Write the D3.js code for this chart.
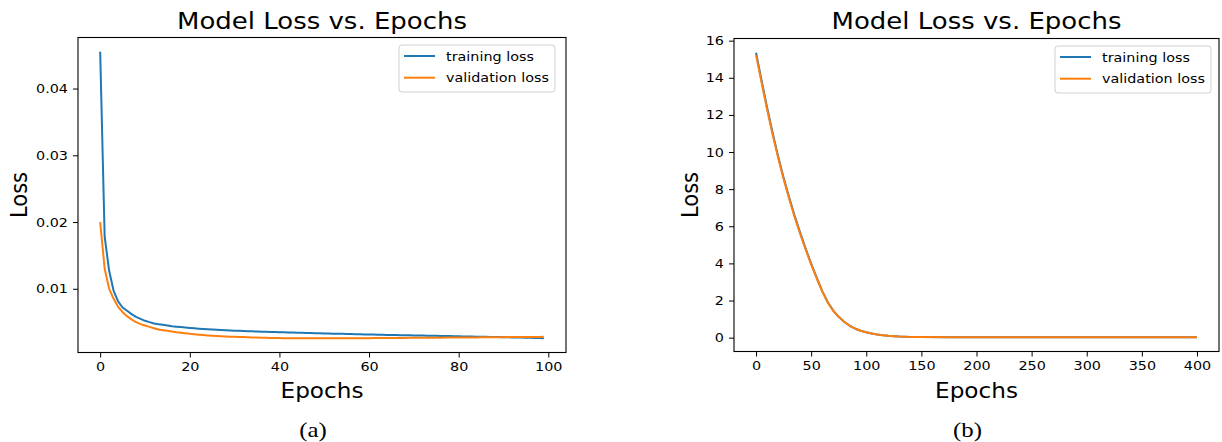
<!DOCTYPE html>
<html><head><meta charset="utf-8">
<script src="https://cdn.jsdelivr.net/npm/d3@7"></script>
<style>body{margin:0;background:#fff}svg{display:block}</style>
</head><body>
<script>
// ---------- data ----------
const titleText = "Model Loss vs. Epochs";
const xLabel = "Epochs";
const yLabel = "Loss";
const seriesNames = ["training loss", "validation loss"];
const seriesColors = ["#1f77b4", "#ff7f0e"];

// panel (a): 100 epochs
const epochsA = d3.range(0, 100);
const trainA = [
0.0455,0.0178,0.0127,0.0097,0.0081,0.0072,0.0067,0.0062,0.0058,0.0055,
0.0052,0.0050,0.0048,0.0047,0.0046,0.0045,0.0044,0.00433,0.00426,0.0042,
0.00414,0.00408,0.00403,0.00398,0.00394,0.0039,0.00386,0.00382,0.00379,0.00376,
0.00373,0.0037,0.00367,0.00365,0.00362,0.0036,0.00358,0.00356,0.00354,0.00352,
0.0035,0.00348,0.00346,0.00344,0.00342,0.0034,0.00338,0.00336,0.00335,0.00333,
0.00331,0.0033,0.00328,0.00326,0.00325,0.00323,0.00321,0.0032,0.00318,0.00317,
0.00315,0.00314,0.00312,0.00311,0.00309,0.00308,0.00307,0.00305,0.00304,0.00303,
0.00301,0.003,0.00299,0.00297,0.00296,0.00295,0.00294,0.00292,0.00291,0.0029,
0.00289,0.00287,0.00286,0.00285,0.00283,0.00282,0.0028,0.00279,0.00278,0.00276,
0.00275,0.00273,0.00272,0.0027,0.00269,0.00267,0.00266,0.00264,0.00262,0.0026];
const valA = [
0.0200,0.0130,0.0100,0.0085,0.0073,0.0065,0.0059,0.0054,0.0050,0.0047,
0.0045,0.0043,0.0041,0.0039,0.0038,0.0037,0.0036,0.0035,0.00342,0.00334,
0.00325,0.00318,0.00312,0.00306,0.00301,0.00296,0.00292,0.00288,0.00285,0.00282,
0.0028,0.00278,0.00276,0.00274,0.00272,0.0027,0.00268,0.00266,0.00264,0.00262,
0.00261,0.0026,0.0026,0.0026,0.0026,0.0026,0.0026,0.0026,0.0026,0.0026,
0.0026,0.0026,0.0026,0.0026,0.0026,0.0026,0.0026,0.0026,0.0026,0.0026,
0.0026,0.00261,0.00261,0.00262,0.00262,0.00263,0.00263,0.00264,0.00264,0.00265,
0.00265,0.00266,0.00266,0.00267,0.00267,0.00268,0.00268,0.00269,0.00269,0.0027,
0.0027,0.00271,0.00271,0.00272,0.00272,0.00273,0.00273,0.00274,0.00274,0.00275,
0.00275,0.00276,0.00276,0.00277,0.00277,0.00278,0.00278,0.00279,0.00279,0.0028];
const xTicksA = [0, 20, 40, 60, 80, 100];
const yTicksA = [0.01, 0.02, 0.03, 0.04];

// panel (b): 400 epochs (read every 5 epochs, then sparser on the flat tail)
const epochsB = [0,5,10,15,20,25,30,35,40,45,50,55,60,65,70,75,80,85,90,95,100,
  105,110,115,120,125,130,135,140,145,150,175,200,250,300,350,400];
const trainB = [15.35,13.85,12.4,11.04,9.78,8.62,7.56,6.56,5.66,4.8,3.99,3.23,2.52,1.92,1.46,1.12,0.86,0.64,0.48,0.37,0.29,
  0.22,0.17,0.13,0.1,0.08,0.06,0.05,0.04,0.035,0.03,0.025,0.02,0.02,0.02,0.02,0.02];
const valB = [15.22,13.75,12.3,10.95,9.7,8.55,7.5,6.5,5.6,4.75,3.95,3.2,2.5,1.9,1.45,1.12,0.85,0.64,0.48,0.37,0.29,
  0.22,0.17,0.13,0.1,0.08,0.06,0.05,0.04,0.035,0.03,0.025,0.02,0.02,0.02,0.02,0.02];
const xTicksB = [0, 50, 100, 150, 200, 250, 300, 350, 400];
const yTicksB = [0, 2, 4, 6, 8, 10, 12, 14, 16];

// ---------- drawing ----------
const W = 1222, H = 442;
const SX = 1.13; // the source figure is stretched horizontally
const FONT = "'DejaVu Sans', sans-serif";
const svg = d3.select("body").append("svg").attr("width", W).attr("height", H)
  .style("font-family", FONT);

function marginDomain(vals) {
  const [lo, hi] = d3.extent(vals);
  const m = (hi - lo) * 0.05;
  return [lo - m, hi + m];
}

function stext(g, x, y, str, size, anchor, extra) {
  return g.append("text")
    .attr("transform", `translate(${x},${y}) scale(${SX},1)` + (extra || ""))
    .attr("text-anchor", anchor).attr("font-size", size + "px").attr("fill", "#000")
    .text(str);
}

function panel(opt) {
  const {x0, x1, y0, y1, epochs, train, val, xTicks, yTicks, yFmt, caption, legendRight, ylabOff} = opt;
  const g = svg.append("g");
  const x = d3.scaleLinear().domain(marginDomain(epochs)).range([x0, x1]);
  const y = d3.scaleLinear().domain(marginDomain(train.concat(val))).range([y1, y0]);

  const TS = 5, TP = 4;
  const xa = g.append("g").attr("transform", `translate(0,${y1})`)
    .call(d3.axisBottom(x).tickValues(xTicks).tickSize(TS).tickPadding(TP).tickFormat(d3.format("d")));
  const ya = g.append("g").attr("transform", `translate(${x0},0)`)
    .call(d3.axisLeft(y).tickValues(yTicks).tickSize(TS).tickPadding(TP).tickFormat(yFmt));
  [xa, ya].forEach(a => {
    a.select(".domain").remove();
    a.selectAll("text").attr("font-size", "12.7px").attr("fill", "#000")
      .style("font-family", FONT);
    a.selectAll("line").attr("stroke", "#000").attr("stroke-width", 1);
  });
  xa.selectAll("text").attr("transform", `scale(${SX},1)`);
  ya.selectAll("text").attr("x", 0).attr("transform", `translate(${-(TS + TP + 1)},0) scale(${SX},1)`);

  const line = d3.line().x((d, i) => x(epochs[i])).y(d => y(d));
  [train, val].forEach((s, k) => {
    g.append("path").datum(s).attr("d", line).attr("fill", "none")
      .attr("stroke", seriesColors[k]).attr("stroke-width", 2).attr("stroke-linejoin", "round");
  });

  g.append("rect").attr("x", x0).attr("y", y0).attr("width", x1 - x0).attr("height", y1 - y0)
    .attr("fill", "none").attr("stroke", "#000").attr("stroke-width", 1.1);

  const cx = (x0 + x1) / 2;
  stext(g, cx, 28.5, titleText, 23, "middle");
  stext(g, cx, 398, xLabel, 20.5, "middle");
  stext(g, x0 - ylabOff, (y0 + y1) / 2, yLabel, 21, "middle", " rotate(-90)");
  stext(g, cx - 9, 437, caption, 22, "middle")
    .style("font-family", "'Liberation Serif', 'Times New Roman', serif");

  // legend
  const lw = 156, lh = 47, lx = x1 - legendRight - lw, ly = y0 + 7.5;
  const lg = g.append("g");
  lg.append("rect").attr("x", lx).attr("y", ly).attr("width", lw).attr("height", lh)
    .attr("rx", 3).attr("fill", "#fff").attr("fill-opacity", 0.8)
    .attr("stroke", "#d0d0d0").attr("stroke-width", 1);
  seriesNames.forEach((n, k) => {
    const yy = ly + 11 + k * 21.7;
    lg.append("line").attr("x1", lx + 5).attr("x2", lx + 36).attr("y1", yy).attr("y2", yy)
      .attr("stroke", seriesColors[k]).attr("stroke-width", 2);
    stext(lg, lx + 47, yy + 4.5, n, 12.7, "start");
  });
}

panel({x0: 78, x1: 566, y0: 37.5, y1: 352.5, epochs: epochsA, train: trainA, val: valA,
  xTicks: xTicksA, yTicks: yTicksA, yFmt: d3.format(".2f"), caption: "(a)", legendRight: 11, ylabOff: 51});
panel({x0: 734, x1: 1219, y0: 38.5, y1: 351.5, epochs: epochsB, train: trainB, val: valB,
  xTicks: xTicksB, yTicks: yTicksB, yFmt: d3.format("d"), caption: "(b)", legendRight: 8, ylabOff: 36});
</script>
</body></html>
